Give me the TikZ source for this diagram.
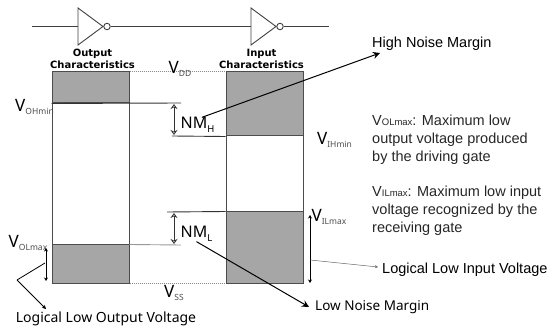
\documentclass[tikz,border=0pt]{standalone}
\usepackage{fontspec}
\setmainfont{Liberation Sans}
\newfontfamily\headfont{DejaVu Sans}
\newfontfamily\labfont{Noto Sans}
\usetikzlibrary{arrows.meta,positioning,calc}
\newcommand{\lev}[2]{{\fontsize{17}{17}\selectfont V}\raisebox{-3.5pt}{\fontsize{8.5}{8.5}\selectfont\color{black!70}#2}}
\newcommand{\vin}[1]{V{\fontsize{9.5}{9.5}\selectfont #1}}
\begin{document}
\begin{tikzpicture}[x=1pt,y=-1pt,font=\fontsize{14.5}{18}\selectfont,
  wire/.style={draw=black!75,line width=0.9pt},
  bubble/.style={draw=black!75,circle,line width=0.9pt,fill=white,inner sep=0pt,minimum size=6.5pt},
  bandbox/.style={draw=black!70,line width=1pt,fill=black!35,minimum width=77pt,inner sep=0pt},
  charbox/.style={draw=black!70,line width=1pt,minimum width=77pt,minimum height=211pt,inner sep=0pt},
  rail/.style={draw=black!45,densely dotted,line width=1pt},
  edge/.style={draw=black!80,line width=0.9pt},
  arr/.style={{Stealth[length=5pt,width=7pt,open]}-{Stealth[length=5pt,width=7pt,open]},black!80,line width=0.7pt},
  dbl/.style={{Stealth[length=3.5pt,width=4pt]}-{Stealth[length=3.5pt,width=4pt]},black,line width=0.9pt},
  pointer/.style={-{Stealth[length=7pt,width=7pt]},black,line width=1pt},
  head/.style={font=\headfont\bfseries\fontsize{10}{12}\selectfont,align=center,inner sep=0pt},
  lab/.style={font=\labfont\fontsize{13.5}{15}\selectfont,inner sep=0pt},
  note/.style={align=left,anchor=north west,inner sep=0pt,text=black!85}]
\useasboundingbox (0,0) rectangle (553,328);
% boxes
\node[charbox] (outbox) at (90.5,177.5) {};
\node[charbox] (inbox) at (264.5,177.5) {};
\node[bandbox,minimum height=31pt] (outhi) at (90.5,87.5) {};
\node[bandbox,minimum height=38pt] (outlo) at (90.5,264) {};
\node[bandbox,minimum height=64pt] (inhi) at (264.5,104) {};
\node[bandbox,minimum height=71pt] (inlo) at (264.5,247.5) {};
% inverters
\coordinate (inleft) at (32,26.5);
\coordinate (inright) at (329,26.5);
\foreach \g/\x in {gatea/78,gateb/251} {
  \draw[wire] (\x,8) -- (\x,45) -- (\x+25,26.5) -- cycle;
  \node[bubble] (\g) at (\x+29,26.5) {};
  \coordinate (\g in) at (\x,26.5);
}
\draw[wire] (inleft) -- (gateain);
\draw[wire] (gatea) -- (gatebin);
\draw[wire] (gateb) -- (inright);
\node[head] (outhead) at (92.5,59) {Output\\Characteristics};
\node[head] (inhead) at (261.5,59) {Input\\Characteristics};
% levels
\draw[rail] (outhi.north east) -- (inhi.north west);
\draw[rail] (outlo.south east) -- (inlo.south west);
\coordinate (ohend) at (181,103);
\coordinate (ihstart) at (172,136);
\coordinate (ilstart) at (167,212);
\coordinate (olend) at (181,245);
\draw[edge] (outhi.south west) -- (ohend);
\draw[edge] (ihstart) -- (inhi.south west);
\draw[edge] (ilstart) -- (inlo.north west);
\draw[edge,draw=black!40] (outlo.north east) -- (olend);
\draw[arr] (174,104) -- (174,135);
\draw[arr] (174,213) -- (174,244);
\node[lab] (vdd) at (180,69) {\lev{V}{DD}};
\node[lab] (voh) at (34.5,107) {\lev{V}{OHmin}};
\node[lab] (vol) at (28,243) {\lev{V}{OLmax}};
\node[lab] (vss) at (174,293) {\lev{V}{SS}};
\node[lab] (vih) at (334.5,140) {\lev{V}{IHmin}};
\node[lab] (vil) at (329,217) {\lev{V}{ILmax}};
\node[lab] (nmh) at (197.5,125) {{\fontsize{16}{16}\selectfont NM}\raisebox{-3.5pt}{\fontsize{9.5}{9.5}\selectfont H}};
\node[lab] (nml) at (196.5,234) {{\fontsize{16}{16}\selectfont NM}\raisebox{-3.5pt}{\fontsize{9.5}{9.5}\selectfont L}};
% callouts
\node[anchor=west,inner sep=0pt] (hnm) at (372,44) {High Noise Margin};
\node[lab,anchor=west] (lnm) at (315,307) {Low Noise Margin};
\node[anchor=west,inner sep=0pt] (lli) at (382,270) {Logical Low Input Voltage};
\node[lab,font=\labfont\fontsize{14}{15}\selectfont] (llo) at (106,319) {Logical Low Output Voltage};
\node[note] (notea) at (372,115) {\vin{OLmax}: Maximum low\\output voltage produced\\by the driving gate};
\node[note] (noteb) at (372,186) {\vin{ILmax}: Maximum low input\\voltage recognized by the\\receiving gate};
\coordinate (outlow) at (46,248);
\coordinate (outlob) at (46,281);
\coordinate (inlow) at (310,215);
\coordinate (inlob) at (310,283);
\draw[dbl] (outlow) -- (outlob);
\draw[dbl] (inlow) -- (inlob);
\coordinate (outmid) at (45,263);
\coordinate (outknee) at (17,280);
\coordinate (outtip) at (46,309);
\coordinate (inmid) at (310,260);
\coordinate (llitip) at (378,267);
\coordinate (hnmtip) at (380,53);
\coordinate (lnmtip) at (309,307);
\draw[black,line width=0.8pt] (outmid) -- (outknee);
\draw[-{Stealth[length=4pt,width=4pt]},black,line width=0.8pt] (outknee) -- (outtip);
\draw[-{Stealth[length=3pt,width=3pt]},black!60,line width=0.5pt] (inmid) -- (llitip);
\draw[pointer] (nmh.60) -- (hnmtip);
\draw[pointer] (nml.south) -- (lnmtip);
\end{tikzpicture}
\end{document}
